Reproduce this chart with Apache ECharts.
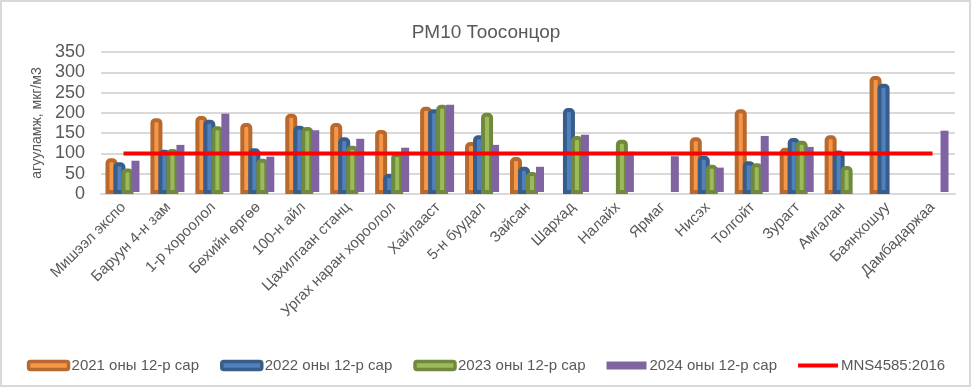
<!DOCTYPE html>
<html>
<head>
<meta charset="utf-8">
<script src="https://cdn.jsdelivr.net/npm/echarts@6/dist/echarts.min.js"></script>
<style>
html,body{margin:0;padding:0;background:#fff;}
#chart{width:972px;height:388px;}
</style>
</head>
<body>
<div id="chart"></div>
<script>
const title = 'PM10 Тоосонцор';
const yAxisName = 'агууламж, мкг/м3';
const categories = ['Мишээл экспо','Баруун 4-н зам','1-р хороолол','Бөхийн өргөө','100-н айл','Цахилгаан станц','Ургах наран хороолол','Хайлааст','5-н буудал','Зайсан','Шархад','Налайх','Ярмаг','Нисэх','Толгойт','Зурагт','Амгалан','Баянхошуу','Дамбадаржаа'];
const seriesNames = ['2021 оны 12-р сар','2022 оны 12-р сар','2023 оны 12-р сар','2024 оны 12-р сар','MNS4585:2016'];
const v2021 = [88, 187, 192, 175, 198, 175, 158, 215, 128, 91, null, null, null, 140, 209, 114, 145, 291, null];
const v2022 = [78, 109, 183, 113, 168, 140, 49, 209, 145, 67, 212, null, null, 94, 81, 138, 107, 272, null];
const v2023 = [63, 111, 167, 87, 165, 119, 101, 220, 200, 54, 143, 134, null, 72, 76, 131, 69, null, null];
const v2024 = [87, 126, 203, 97, 162, 141, 119, 225, 126, 72, 151, 109, 98, 70, 148, 121, null, null, 161];
const standard = [100, 100, 100, 100, 100, 100, 100, 100, 100, 100, 100, 100, 100, 100, 100, 100, 100, 100, 100];
const yTicks = [0, 50, 100, 150, 200, 250, 300, 350];

const FONT = '"Liberation Sans", Arial, sans-serif';
const TXT = '#595959';

function barSeries(name, data, fill, border, bw) {
  return {
    name: name, type: 'bar', data: data,
    barWidth: 12, barGap: '-33.34%',
    itemStyle: { color: fill, borderColor: border, borderWidth: bw, borderRadius: [3,3,0,0] }
  };
}

const chart = echarts.init(document.getElementById('chart'), null, {renderer: 'canvas'});
chart.setOption({
  animation: false,
  textStyle: { fontFamily: FONT },
  title: {
    text: title, left: 'center', top: 18,
    textStyle: { fontFamily: FONT, fontSize: 19, fontWeight: 'normal', color: TXT }
  },
  graphic: [{
    type: 'rect', shape: { x: 1, y: 1, width: 969, height: 385 },
    style: { fill: 'none', stroke: '#d9d9d9', lineWidth: 2 }, silent: true, z: -10
  }],
  legend: {
    left: 'center', top: 353, itemWidth: 40, itemHeight: 8, itemGap: 21,
    textStyle: { fontFamily: FONT, fontSize: 15, color: TXT, padding: [0,0,0,-2] },
    data: [
      { name: seriesNames[0], icon: 'roundRect', itemStyle: { color: '#F79646', borderColor: '#B7692E', borderWidth: 3.5 } },
      { name: seriesNames[1], icon: 'roundRect', itemStyle: { color: '#4F81BD', borderColor: '#385D8A', borderWidth: 3.5 } },
      { name: seriesNames[2], icon: 'roundRect', itemStyle: { color: '#9BBB59', borderColor: '#71893F', borderWidth: 3.5 } },
      { name: seriesNames[3], icon: 'rect', itemStyle: { color: '#8064A2', borderWidth: 0 } },
      { name: seriesNames[4], icon: 'path://M0,2 L40,2 L40,6 L0,6 Z M0,0 L0.01,0 L0.01,0.01 Z M39.99,7.99 L40,7.99 L40,8 Z',
        itemStyle: { color: '#FF0000', borderWidth: 0 } }
    ]
  },
  grid: { left: 101, right: 17, top: 52, bottom: 194, containLabel: false },
  xAxis: {
    type: 'category', data: categories,
    axisLine: { show: true, lineStyle: { color: '#d9d9d9', width: 2 } },
    axisTick: { show: false },
    axisLabel: { rotate: 45, interval: 0, margin: 11, fontFamily: FONT, fontSize: 15, color: TXT }
  },
  yAxis: {
    type: 'value', min: yTicks[0], max: yTicks[yTicks.length-1], interval: 50,
    name: yAxisName, nameLocation: 'middle', nameGap: 56, nameRotate: 90,
    nameTextStyle: { fontFamily: FONT, fontSize: 14, color: TXT },
    axisLine: { show: false }, axisTick: { show: false },
    axisLabel: { margin: 16, fontFamily: FONT, fontSize: 18, color: TXT },
    splitLine: { lineStyle: { color: '#d9d9d9', width: 2 } }
  },
  series: [
    barSeries(seriesNames[0], v2021, '#F79646', '#B7692E', 4),
    barSeries(seriesNames[1], v2022, '#4F81BD', '#385D8A', 4),
    barSeries(seriesNames[2], v2023, '#9BBB59', '#71893F', 4),
    { name: seriesNames[3], type: 'bar', data: v2024, barWidth: 12, barGap: '-33.34%',
      itemStyle: { color: '#8064A2', borderColor: 'rgba(0,0,0,0)', borderWidth: 4 } },
    { name: seriesNames[4], type: 'line', data: standard, symbol: 'none', showSymbol: false, z: 5,
      lineStyle: { color: '#FF0000', width: 4 }, itemStyle: { color: '#FF0000' } }
  ]
});
</script>
</body>
</html>
